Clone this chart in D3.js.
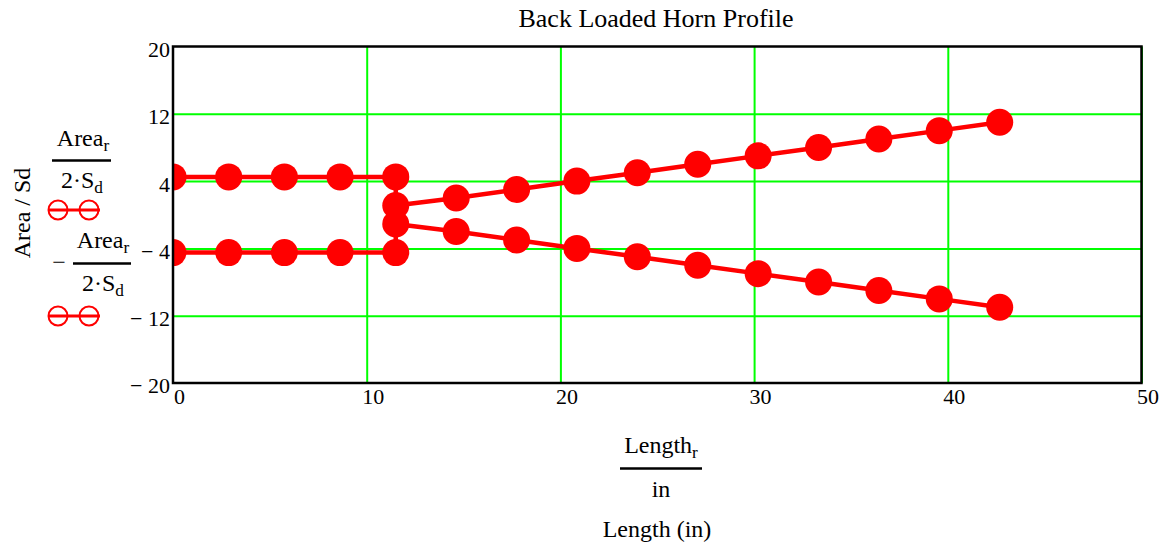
<!DOCTYPE html>
<html>
<head>
<meta charset="utf-8">
<script src="https://cdn.jsdelivr.net/npm/d3@7"></script>
<style>
  html, body { margin: 0; padding: 0; background: #fff; }
  svg { display: block; font-family: "Liberation Serif", "Times New Roman", serif; }
</style>
</head>
<body>
<svg id="chart" width="1168" height="550"></svg>
<script>
// Horn profile: station positions along the path (inches) and half-area / Sd
const lengthIn = [0, 2.875, 5.75, 8.625, 11.5, 11.5, 14.62, 17.74, 20.85, 23.97, 27.09, 30.21, 33.33, 36.44, 39.56, 42.68];
const halfAreaRatio = [4.5, 4.5, 4.5, 4.5, 4.5, 1.1, 2.0, 3.0, 4.0, 5.0, 6.0, 7.0, 8.0, 9.0, 10.0, 11.0];

const xTicks = [0, 10, 20, 30, 40, 50];
const yTicks = [20, 12, 4, -4, -12, -20];
const yTickLabels = ["20", "12", "4", "\u2212 4", "\u2212 12", "\u2212 20"];

const plot = { left: 173, right: 1141.5, top: 46.5, bottom: 383 };
const svg = d3.select("#chart");

const x = d3.scaleLinear().domain([0, 50]).range([plot.left, plot.right]);
const y = d3.scaleLinear().domain([-20, 20]).range([plot.bottom, plot.top]);

const green = "#00ff00";
const red = "#ff0000";

// grid lines
const grid = svg.append("g");
grid.append("g")
  .attr("transform", `translate(0,${plot.bottom})`)
  .call(d3.axisBottom(x).tickValues(xTicks.slice(1)).tickSize(-(plot.bottom - plot.top)).tickFormat(""))
  .call(g => g.select(".domain").remove())
  .call(g => g.selectAll("line").attr("stroke", green).attr("stroke-width", 2));
grid.append("g")
  .attr("transform", `translate(${plot.left},0)`)
  .call(d3.axisLeft(y).tickValues(yTicks.slice(1, -1)).tickSize(-(plot.right - plot.left)).tickFormat(""))
  .call(g => g.select(".domain").remove())
  .call(g => g.selectAll("line").attr("stroke", green).attr("stroke-width", 2));

// data traces, clipped to the plotting area
svg.append("clipPath").attr("id", "plotClip")
  .append("rect")
  .attr("x", plot.left).attr("y", plot.top)
  .attr("width", plot.right - plot.left).attr("height", plot.bottom - plot.top);

const traces = svg.append("g").attr("clip-path", "url(#plotClip)");
const series = [
  halfAreaRatio.map((v, i) => [lengthIn[i], v]),
  halfAreaRatio.map((v, i) => [lengthIn[i], -v])
];
const line = d3.line().x(d => x(d[0])).y(d => y(d[1]));

series.forEach(s => {
  traces.append("path")
    .attr("d", line(s))
    .attr("fill", "none")
    .attr("stroke", red)
    .attr("stroke-width", 4.5)
    .attr("stroke-linejoin", "round");
  traces.selectAll(null)
    .data(s)
    .join("circle")
    .attr("cx", d => x(d[0]))
    .attr("cy", d => y(d[1]))
    .attr("r", 13.5)
    .attr("fill", red);
});

// frame
svg.append("rect")
  .attr("x", plot.left).attr("y", plot.top)
  .attr("width", plot.right - plot.left).attr("height", plot.bottom - plot.top)
  .attr("fill", "none").attr("stroke", "#000").attr("stroke-width", 2.5);

// tick labels
const yAxis = svg.append("g")
  .attr("transform", `translate(${plot.left},0)`)
  .call(d3.axisLeft(y).tickValues(yTicks).tickSize(0).tickPadding(3)
    .tickFormat((d, i) => yTickLabels[i]));
yAxis.select(".domain").remove();
yAxis.selectAll("text")
  .attr("font-family", "Liberation Serif")
  .attr("font-size", 22)
  .attr("fill", "#000")
  .attr("dy", "0.45em");

const xAxis = svg.append("g")
  .attr("transform", `translate(0,${plot.bottom})`)
  .call(d3.axisBottom(x).tickValues(xTicks).tickSize(0).tickPadding(5));
xAxis.select(".domain").remove();
xAxis.selectAll("text")
  .attr("font-family", "Liberation Serif")
  .attr("font-size", 22)
  .attr("fill", "#000")
  .attr("dx", 6);

// title
svg.append("text")
  .attr("x", 656).attr("y", 27)
  .attr("text-anchor", "middle")
  .attr("font-size", 26)
  .text("Back Loaded Horn Profile");

// helper: text with a trailing subscript
function subText(g, cx, baseline, main, sub, size) {
  const t = g.append("text")
    .attr("x", cx).attr("y", baseline)
    .attr("text-anchor", "middle")
    .attr("font-size", size);
  t.append("tspan").text(main);
  t.append("tspan").attr("font-size", size * 0.72).attr("dy", 5).text(sub);
  return t;
}

// x axis label: Length_r / in
const xl = svg.append("g");
subText(xl, 661, 453, "Length", "r", 24);
xl.append("line").attr("x1", 620).attr("x2", 702).attr("y1", 468.5).attr("y2", 468.5)
  .attr("stroke", "#000").attr("stroke-width", 2.5);
xl.append("text").attr("x", 661).attr("y", 497).attr("text-anchor", "middle")
  .attr("font-size", 24).text("in");
xl.append("text").attr("x", 657).attr("y", 537).attr("text-anchor", "middle")
  .attr("font-size", 24).text("Length (in)");

// y axis label
svg.append("text")
  .attr("transform", "translate(30,213) rotate(-90)")
  .attr("text-anchor", "middle")
  .attr("font-size", 24)
  .text("Area / Sd");

// legend entries: expression over its trace symbol
const legend = svg.append("g");
function legendSymbol(yPos) {
  legend.append("line").attr("x1", 48).attr("x2", 100).attr("y1", yPos).attr("y2", yPos)
    .attr("stroke", red).attr("stroke-width", 3);
  [58, 89].forEach(cx => legend.append("circle")
    .attr("cx", cx).attr("cy", yPos).attr("r", 9.5)
    .attr("fill", "none").attr("stroke", red).attr("stroke-width", 2));
}

subText(legend, 83, 146, "Area", "r", 24);
legend.append("line").attr("x1", 52).attr("x2", 111).attr("y1", 160.5).attr("y2", 160.5)
  .attr("stroke", "#000").attr("stroke-width", 2.5);
subText(legend, 82, 188, "2\u00b7S", "d", 24);
legendSymbol(210);

legend.append("text").attr("x", 59).attr("y", 270).attr("text-anchor", "middle")
  .attr("font-size", 24).text("\u2212");
subText(legend, 103, 248, "Area", "r", 24);
legend.append("line").attr("x1", 73).attr("x2", 131).attr("y1", 263.5).attr("y2", 263.5)
  .attr("stroke", "#000").attr("stroke-width", 2.5);
subText(legend, 103, 291, "2\u00b7S", "d", 24);
legendSymbol(316);
</script>
</body>
</html>
